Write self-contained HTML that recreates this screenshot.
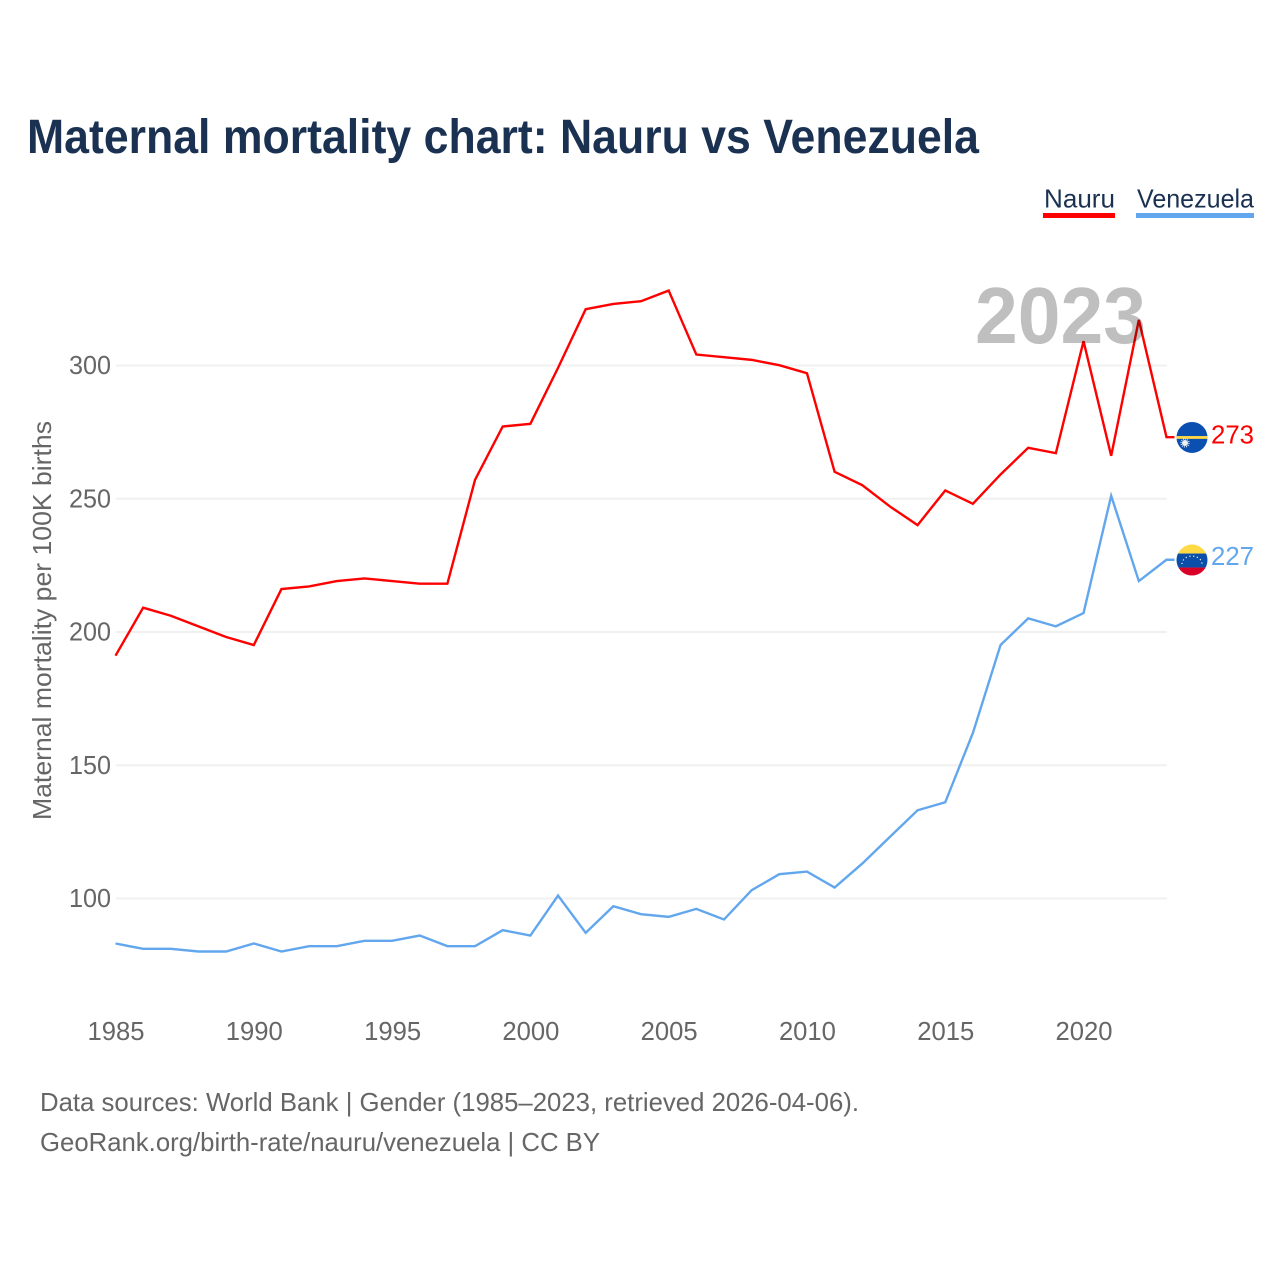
<!DOCTYPE html>
<html lang="en">
<head>
<meta charset="utf-8">
<title>Maternal mortality chart: Nauru vs Venezuela</title>
<style>
html,body{margin:0;padding:0;background:#fff;width:1280px;height:1280px;overflow:hidden}
svg{display:block}
text{font-family:"Liberation Sans",sans-serif}
</style>
</head>
<body>
<svg id="chart" xmlns="http://www.w3.org/2000/svg" width="1280" height="1280" viewBox="0 0 1280 1280">
  <rect x="0" y="0" width="1280" height="1280" fill="#ffffff"/>
  <text x="27" y="153" font-size="48" font-weight="700" fill="#1a3152" textLength="952" lengthAdjust="spacingAndGlyphs">Maternal mortality chart: Nauru vs Venezuela</text>

  <g>
    <text x="1044" y="207.5" font-size="26" fill="#1a3152" textLength="71" lengthAdjust="spacingAndGlyphs">Nauru</text>
    <rect x="1043" y="213" width="72" height="5" fill="#ff0000"/>
  </g>
  <g>
    <text x="1137" y="207.5" font-size="26" fill="#1a3152" textLength="117" lengthAdjust="spacingAndGlyphs">Venezuela</text>
    <rect x="1136" y="213" width="118" height="5" fill="#62a7ed"/>
  </g>

  <text transform="translate(51,820) rotate(-90)" x="0" y="0" font-size="26" fill="#666666" textLength="399" lengthAdjust="spacingAndGlyphs">Maternal mortality per 100K births</text>

  <g id="grid"></g>
  <g id="y-ticks"></g>
  <g id="x-ticks"></g>
  <g id="series" transform="translate(-0.5,-0.3)"></g>

  <text x="975" y="343" font-size="80" font-weight="700" fill="#000000" fill-opacity="0.25" textLength="171" lengthAdjust="spacingAndGlyphs">2023</text>

  <defs>
    <clipPath id="flag-clip-circle"><circle cx="0" cy="0" r="15.5"/></clipPath>
  </defs>
  <g id="flag-nauru">
    <g clip-path="url(#flag-clip-circle)">
      <rect x="-16" y="-16" width="32" height="32" fill="#0b4fb0"/>
      <rect x="-16" y="-1.4" width="32" height="2.8" fill="#ffda44"/>
      <circle cx="-7" cy="5.5" r="3" fill="#f0f0f0"/>
      <circle cx="-7" cy="5.5" r="4" fill="none" stroke="#f0f0f0" stroke-width="1.2" stroke-dasharray="1 1.1"/>
    </g>
  </g>
  <g id="flag-venezuela">
    <g clip-path="url(#flag-clip-circle)">
      <rect x="-16" y="-16" width="32" height="9.5" fill="#ffda44"/>
      <rect x="-16" y="-6.5" width="32" height="14" fill="#0b4fa8"/>
      <rect x="-16" y="7.5" width="32" height="9" fill="#d80027"/>
      <path d="M-10 4 A10 8 0 0 1 10 4" fill="none" stroke="#f0f0f0" stroke-width="1.2" stroke-dasharray="1.2 2.6"/>
    </g>
  </g>
  <g id="end-labels"></g>

  <text x="40" y="1111" font-size="26" fill="#666666" textLength="819" lengthAdjust="spacingAndGlyphs">Data sources: World Bank | Gender (1985–2023, retrieved 2026-04-06).</text>
  <text x="40" y="1151" font-size="26" fill="#666666" textLength="560" lengthAdjust="spacingAndGlyphs">GeoRank.org/birth-rate/nauru/venezuela | CC BY</text>
</svg>

<script>
const years = [1985,1986,1987,1988,1989,1990,1991,1992,1993,1994,1995,1996,1997,1998,1999,2000,2001,2002,2003,2004,2005,2006,2007,2008,2009,2010,2011,2012,2013,2014,2015,2016,2017,2018,2019,2020,2021,2022,2023];
const nauruValues = [191,209,206,202,198,195,216,217,219,220,219,218,218,257,277,278,299,321,323,324,328,304,303,302,300,297,260,255,247,240,253,248,259,269,267,309,266,317,273];
const venezuelaValues = [83,81,81,80,80,83,80,82,82,84,84,86,82,82,88,86,101,87,97,94,93,96,92,103,109,110,104,113,123,133,136,162,195,205,202,207,251,219,227];
const yTickValues = [100,150,200,250,300];
const xTickValues = [1985,1990,1995,2000,2005,2010,2015,2020];

const SVG_NS = 'http://www.w3.org/2000/svg';
const xScale = function (year) { return 116 + (year - 1985) * (1167 - 116) / (2023 - 1985); };
const yScale = function (value) { return 898.5 - (value - 100) * (898.5 - 365.5) / (300 - 100); };

function make(tag, parent, attrs, content) {
  const el = document.createElementNS(SVG_NS, tag);
  Object.keys(attrs).forEach(function (k) { el.setAttribute(k, attrs[k]); });
  if (content !== undefined) el.textContent = content;
  parent.appendChild(el);
  return el;
}

const gridGroup = document.getElementById('grid');
const yTickGroup = document.getElementById('y-ticks');
yTickValues.forEach(function (v) {
  const line = make('line', gridGroup, { x1: 116, x2: xScale(2023), y1: yScale(v), y2: yScale(v), stroke: '#f0f0f0', 'stroke-width': 2 });
  
  
  const label = make('text', yTickGroup, { x: 111, y: yScale(v) + 8.5, 'text-anchor': 'end', 'font-size': 26, fill: '#666666', textLength: 42, lengthAdjust: 'spacingAndGlyphs' }, String(v));
  
  
});

const xTickGroup = document.getElementById('x-ticks');
xTickValues.forEach(function (y) {
  const label = make('text', xTickGroup, { x: xScale(y), y: 1040, 'text-anchor': 'middle', 'font-size': 26, fill: '#666666', textLength: 57, lengthAdjust: 'spacingAndGlyphs' }, String(y));
  
  
});

function linePath(values) {
  const pts = values.map(function (v, i) { return xScale(years[i]).toFixed(2) + ',' + yScale(v).toFixed(2); });
  const last = values[values.length - 1];
  pts.push((xScale(years[years.length - 1]) + 8).toFixed(2) + ',' + yScale(last).toFixed(2));
  return 'M' + pts.join(' L');
}

const seriesGroup = document.getElementById('series');
const nauruLine = make('path', seriesGroup, { d: linePath(nauruValues), fill: 'none', stroke: '#ff0000', 'stroke-width': 2.4, 'stroke-linejoin': 'miter' });


const venezuelaLine = make('path', seriesGroup, { d: linePath(venezuelaValues), fill: 'none', stroke: '#62a7ed', 'stroke-width': 2.4, 'stroke-linejoin': 'miter' });



const nauruLast = nauruValues[nauruValues.length - 1];
const venezuelaLast = venezuelaValues[venezuelaValues.length - 1];
document.getElementById('flag-nauru').setAttribute('transform', 'translate(1192,' + yScale(nauruLast) + ')');
document.getElementById('flag-venezuela').setAttribute('transform', 'translate(1192,' + yScale(venezuelaLast) + ')');

const endLabels = document.getElementById('end-labels');
const nauruEnd = make('text', endLabels, { x: 1211, y: yScale(nauruLast) + 6, 'font-size': 26, fill: '#ff0000', textLength: 43, lengthAdjust: 'spacingAndGlyphs' }, String(nauruLast));


const venezuelaEnd = make('text', endLabels, { x: 1211, y: yScale(venezuelaLast) + 5, 'font-size': 26, fill: '#62a7ed', textLength: 43, lengthAdjust: 'spacingAndGlyphs' }, String(venezuelaLast));


</script>
</body>
</html>
